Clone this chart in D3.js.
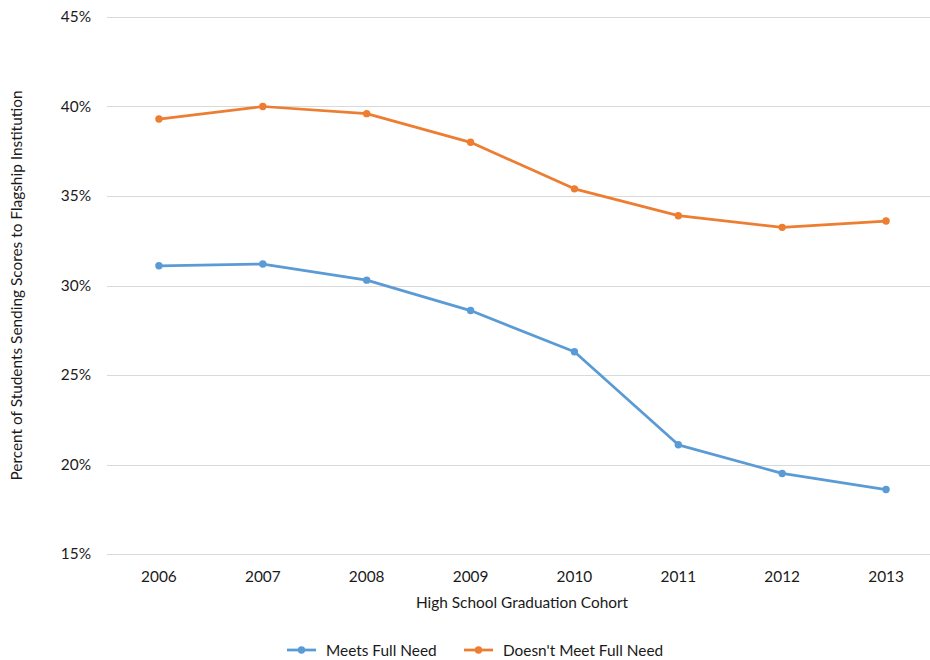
<!DOCTYPE html>
<html>
<head>
<meta charset="utf-8">
<script src="https://cdn.jsdelivr.net/npm/d3@7"></script>
<style>
  body { margin: 0; background: #fff; }
  svg { display: block; font-family: Lato, "Open Sans", sans-serif; }
</style>
</head>
<body>
<div id="chart"></div>
<script>
const years = ["2006", "2007", "2008", "2009", "2010", "2011", "2012", "2013"]
const meetsFullNeed = [31.1, 31.2, 30.3, 28.6, 26.3, 21.1, 19.5, 18.6]
const doesntMeetFullNeed = [39.3, 40.0, 39.6, 38.0, 35.4, 33.9, 33.25, 33.6]
const yTicks = [15, 20, 25, 30, 35, 40, 45]

const series = [
  { name: "Meets Full Need", values: meetsFullNeed, color: "#5B9BD5" },
  { name: "Doesn't Meet Full Need", values: doesntMeetFullNeed, color: "#ED7D31" },
]

const width = 930
const height = 660
const margin = { top: 17, right: -8, bottom: 106, left: 107 }
const fontSize = "15.4px"

const svg = d3
  .select("#chart")
  .append("svg")
  .attr("width", width)
  .attr("height", height)

const x = d3
  .scaleBand()
  .domain(years)
  .range([margin.left, width - margin.right])

const y = d3
  .scaleLinear()
  .domain([15, 45])
  .range([height - margin.bottom, margin.top])

// gridlines
svg
  .append("g")
  .selectAll("line")
  .data(yTicks)
  .enter()
  .append("line")
  .attr("x1", margin.left)
  .attr("x2", width - margin.right)
  .attr("y1", (d) => Math.round(y(d)) + 0.5)
  .attr("y2", (d) => Math.round(y(d)) + 0.5)
  .attr("stroke", "#d9d9d9")
  .attr("stroke-width", 1)

// y axis labels
const yAxis = svg
  .append("g")
  .attr("transform", `translate(${margin.left},0)`)
  .call(
    d3
      .axisLeft(y)
      .tickValues(yTicks)
      .tickSize(0)
      .tickPadding(16)
      .tickFormat((d) => d + "%")
  )
yAxis.select(".domain").remove()
yAxis
  .selectAll("text")
  .style("font-size", fontSize)
  .style("font-family", "Lato, 'Open Sans', sans-serif")
  .attr("fill", "#1a1a1a")

// x axis labels
const xAxis = svg
  .append("g")
  .attr("transform", `translate(0,${height - margin.bottom})`)
  .call(d3.axisBottom(x).tickSize(0).tickPadding(17))
xAxis.select(".domain").remove()
xAxis
  .selectAll("text")
  .style("font-size", fontSize)
  .style("font-family", "Lato, 'Open Sans', sans-serif")
  .attr("fill", "#1a1a1a")

svg
  .append("text")
  .attr("x", 522)
  .attr("y", 608)
  .attr("text-anchor", "middle")
  .attr("font-size", fontSize)
  .attr("fill", "#1a1a1a")
  .text("High School Graduation Cohort")

svg
  .append("text")
  .attr("transform", `translate(22,${(y(15) + y(45)) / 2}) rotate(-90)`)
  .attr("text-anchor", "middle")
  .attr("font-size", fontSize)
  .attr("fill", "#1a1a1a")
  .text("Percent of Students Sending Scores to Flagship Institution")

const line = d3
  .line()
  .x((d, i) => x(years[i]) + x.bandwidth() / 2)
  .y((d) => y(d))

svg
  .selectAll(".series-line")
  .data(series)
  .enter()
  .append("path")
  .attr("class", "series-line")
  .attr("fill", "none")
  .attr("stroke", (d) => d.color)
  .attr("stroke-width", 2.75)
  .attr("stroke-linejoin", "round")
  .attr("d", (d) => line(d.values))

svg
  .selectAll(".series-dots")
  .data(series)
  .enter()
  .append("g")
  .attr("class", "series-dots")
  .attr("fill", (d) => d.color)
  .selectAll("circle")
  .data((d) => d.values)
  .enter()
  .append("circle")
  .attr("cx", (d, i) => x(years[i]) + x.bandwidth() / 2)
  .attr("cy", (d) => y(d))
  .attr("r", 3.7)

// legend
const legendX = [287, 464]
const legend = svg
  .selectAll(".legend-item")
  .data(series)
  .enter()
  .append("g")
  .attr("class", "legend-item")
  .attr("transform", (d, i) => `translate(${legendX[i]},650)`)

legend
  .append("line")
  .attr("x1", 0)
  .attr("x2", 29)
  .attr("stroke", (d) => d.color)
  .attr("stroke-width", 2.75)

legend
  .append("circle")
  .attr("cx", 14.5)
  .attr("r", 3.7)
  .attr("fill", (d) => d.color)

legend
  .append("text")
  .attr("x", 39)
  .attr("y", 5.5)
  .attr("font-size", fontSize)
  .attr("fill", "#1a1a1a")
  .text((d) => d.name)
</script>
</body>
</html>
